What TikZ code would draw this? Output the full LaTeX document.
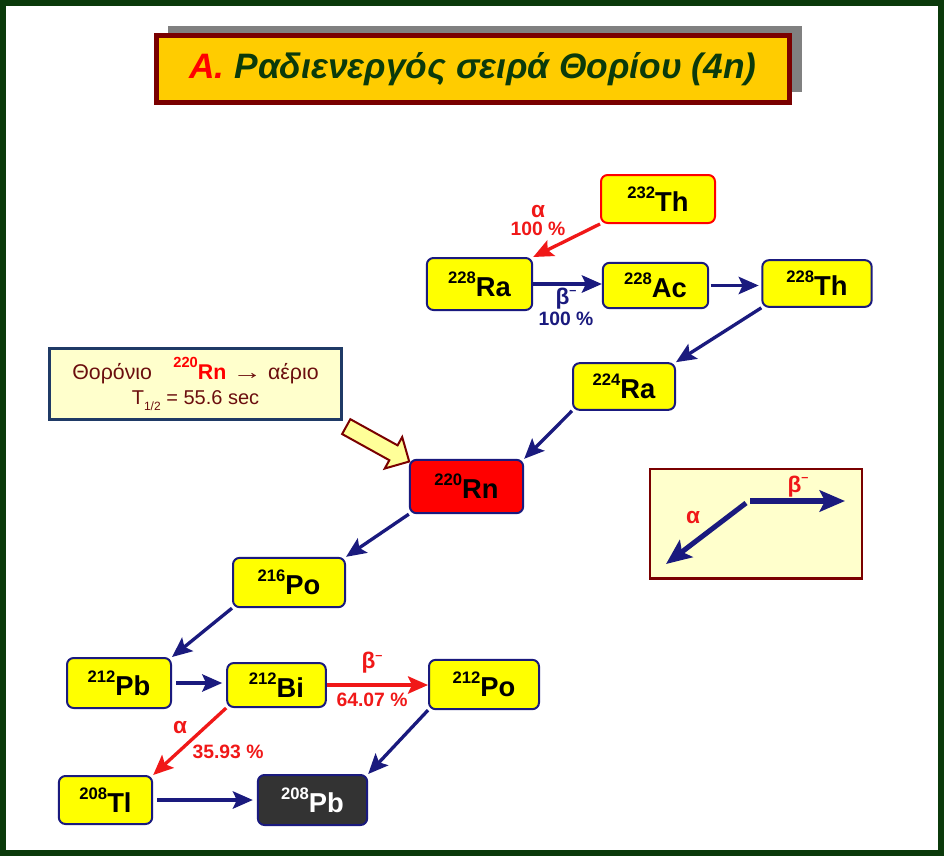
\documentclass[tikz,border=0pt]{standalone}
\usepackage{fontspec}
\setmainfont{Liberation Sans}
\usetikzlibrary{arrows.meta,shapes.arrows,shadows}
\definecolor{FrameGreen}{HTML}{0B3A0B}
\definecolor{TitleRed}{HTML}{7A0000}
\definecolor{TitleGold}{HTML}{FFCC00}
\definecolor{NucYellow}{HTML}{FFFF00}
\definecolor{NucBlue}{HTML}{1A1A7E}
\definecolor{DecayRed}{HTML}{F01818}
\definecolor{NoteFill}{HTML}{FFFFCC}
\definecolor{NoteText}{HTML}{6B0E0E}
\definecolor{NoteBlue}{HTML}{1F3A66}
\definecolor{HintFill}{HTML}{FFFF99}
\definecolor{LeadGrey}{HTML}{333333}
\newcommand{\nuc}[2]{\raisebox{10pt}{\fontsize{12.5}{14}\selectfont #1}#2}
\newcommand{\betam}{{\fontsize{17}{14}\selectfont β}\raisebox{0.5em}{\fontsize{9.5}{10}\selectfont –}}
\newcommand{\alpham}{{\fontsize{17}{14}\selectfont α}}

\begin{document}
\begin{tikzpicture}[x=0.75pt,y=-0.75pt,
    nuc/.style={draw=NucBlue,line width=1.5pt,fill=NucYellow,rounded corners=5pt,
      minimum width=76pt,minimum height=36pt,inner sep=0pt,
      font=\fontsize{20.5}{22}\selectfont\bfseries},
    decayarrow/.style={draw=NucBlue,line width=2.5pt,-{Stealth[length=15pt,width=13pt,inset=3pt]}},
    splitarrow/.style={decayarrow,draw=DecayRed},
    lbl/.style={font=\fontsize{14.5}{13.5}\selectfont\bfseries,inner sep=0pt,align=center},
    titlebox/.style={draw=TitleRed,line width=3.8pt,fill=TitleGold,
      minimum width=475pt,minimum height=50pt,
      drop shadow={shadow xshift=9pt,shadow yshift=7.5pt,fill=gray,opacity=1},
      font=\fontsize{26.5}{30}\selectfont\bfseries\itshape},
    notebox/.style={draw=NoteBlue,line width=2pt,fill=NoteFill,
      minimum width=219pt,minimum height=53pt,align=center,text=NoteText,
      font=\fontsize{15}{19}\selectfont}]
  \useasboundingbox (0,0) rectangle (944,856);
  \draw[FrameGreen,line width=4.8pt] (3.2,3.2) rectangle (940.8,852.8);

  \node[titlebox] (title) at (473,69) {\textcolor{red}{Α.} \textcolor{FrameGreen}{Ραδιενεργός σειρά Θορίου (4n)}};

  \node[nuc,draw=red,minimum width=85.5pt] (th232) at (658,199)   {\nuc{232}{Th}};
  \node[nuc,minimum width=79pt,minimum height=39pt] (ra228) at (479.5,284) {\nuc{228}{Ra}};
  \node[nuc,minimum width=79pt,minimum height=34pt] (ac228) at (655.5,285.5) {\nuc{228}{Ac}};
  \node[nuc,minimum width=82pt,minimum height=35pt] (th228) at (817,283.5) {\nuc{228}{Th}};
  \node[nuc,minimum width=76.5pt,minimum height=35pt] (ra224) at (624,386.5) {\nuc{224}{Ra}};
  \node[nuc,fill=red,minimum width=85pt,minimum height=40pt] (rn220) at (466.5,486.5) {\nuc{220}{Rn}};
  \node[nuc,minimum width=84pt,minimum height=37pt] (po216) at (289,582.5) {\nuc{216}{Po}};
  \node[nuc,minimum width=78pt,minimum height=37.5pt] (pb212) at (119,683) {\nuc{212}{Pb}};
  \node[nuc,minimum width=74pt,minimum height=33pt] (bi212) at (276.5,685) {\nuc{212}{Bi}};
  \node[nuc,minimum width=82.5pt,minimum height=37pt] (po212) at (484,684.5) {\nuc{212}{Po}};
  \node[nuc,minimum width=70pt] (tl208) at (105.5,800) {\nuc{208}{Tl}};
  \node[nuc,fill=LeadGrey,text=white,minimum width=82pt,minimum height=37.5pt] (pb208) at (312.5,800) {\nuc{208}{Pb}};

  \draw[splitarrow] (th232.south west) -- (ra228.north east);
  \draw[decayarrow] (ra228.east) -- (ra228.east -| ac228.west);
  \draw[decayarrow,shorten <=1pt,shorten >=2pt] (ac228.east) -- (ac228.east -| th228.west);
  \draw[decayarrow] (th228.south west) -- (ra224.north east);
  \draw[decayarrow] (ra224.south west) -- (rn220.north east);
  \draw[decayarrow] (rn220.south west) -- (po216.north east);
  \draw[decayarrow] (po216.south west) -- (pb212.north east);
  \draw[decayarrow,shorten <=3pt,shorten >=3pt] (pb212.east) -- (pb212.east -| bi212.west);
  \draw[splitarrow] (bi212.east) -- (bi212.east -| po212.west);
  \draw[splitarrow] (bi212.south west) -- (tl208.north east);
  \draw[decayarrow] (po212.south west) -- (pb208.north east);
  \draw[decayarrow,shorten <=3pt,shorten >=3pt] (tl208.east) -- (tl208.east -| pb208.west);

  \node[lbl,text=DecayRed] (a1) at (538,220) {\alpham\\100 \%};
  \node[lbl,text=NucBlue,font=\fontsize{14.5}{16}\selectfont\bfseries] (b1) at (566,307) {\betam\\100 \%};
  \node[lbl,text=DecayRed] (b2) at (372,663) {\betam};
  \node[lbl,text=DecayRed] (b2p) at (372,700) {64.07 \%};
  \node[lbl,text=DecayRed] (a2) at (180,727) {\alpham};
  \node[lbl,text=DecayRed] (a2p) at (228,752) {35.93 \%};

  \node[notebox] (note) at (195.5,384) {{\fontsize{16}{19}\selectfont Θορόνιο\hspace{16pt}\textcolor{red}{\bfseries\raisebox{0.55em}{\fontsize{11}{12}\selectfont 220}Rn} \scalebox{1.4}[1]{→} αέριο}\\T\raisebox{-0.3em}{\fontsize{9}{10}\selectfont 1/2} = 55.6 sec};
  \node[single arrow,draw=TitleRed,fill=HintFill,line width=1.5pt,rotate=-29,
    minimum height=54pt,minimum width=27pt,inner xsep=0pt,inner ysep=5.5pt,
    single arrow head extend=7pt] (hint) at (374,442) {};

  \node[draw=TitleRed,line width=2pt,fill=NoteFill,minimum width=159pt,minimum height=82pt] (legend) at (756,523.5) {};
  \coordinate (lgo) at (748,501);
  \coordinate (lga) at (666,564);
  \coordinate (lgb) at (845,501);
  \draw[NucBlue,line width=3.8pt,-{Stealth[length=19pt,width=16pt,inset=4pt]}] (lgo) ++(-2,2) -- (lga);
  \draw[NucBlue,line width=3.8pt,-{Stealth[length=19pt,width=16pt,inset=4pt]}] (lgo) ++(2,0) -- (lgb);
  \node[lbl,text=DecayRed,font=\fontsize{17}{18}\selectfont\bfseries] (lbeta) at (798,487) {\betam};
  \node[lbl,text=DecayRed,font=\fontsize{17}{18}\selectfont\bfseries] (lalpha) at (693,518) {\alpham};
\end{tikzpicture}
\end{document}
